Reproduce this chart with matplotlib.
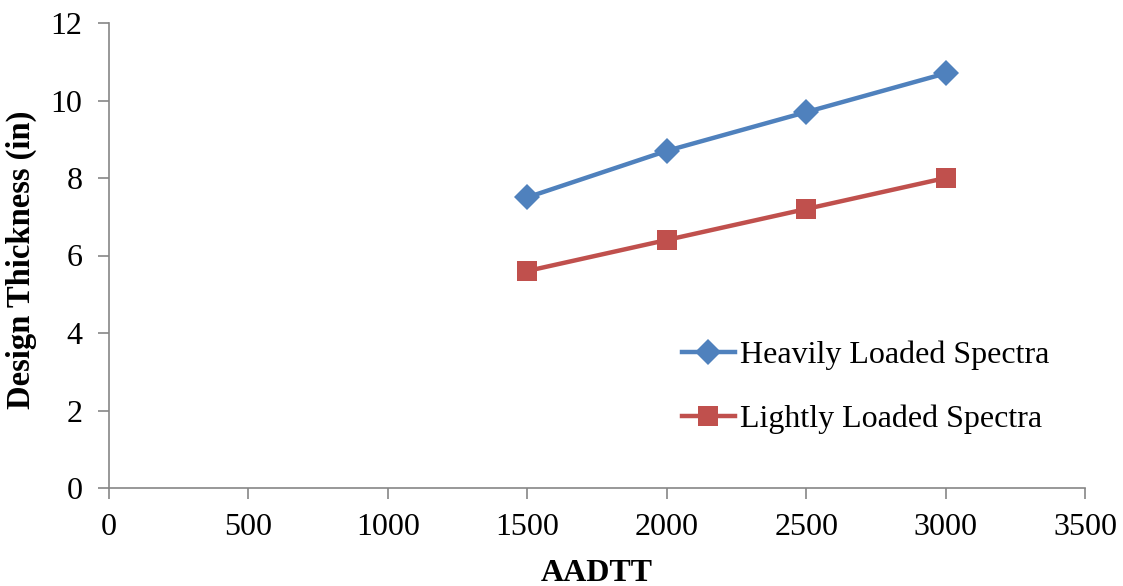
import matplotlib
matplotlib.use("Agg")
import matplotlib.pyplot as plt

aadtt = [1500, 2000, 2500, 3000]
heavy = [7.5, 8.7, 9.7, 10.7]
light = [5.6, 6.4, 7.2, 8.0]
series_labels = ["Heavily Loaded Spectra", "Lightly Loaded Spectra"]
xticks = [0, 500, 1000, 1500, 2000, 2500, 3000, 3500]
yticks = [0, 2, 4, 6, 8, 10, 12]

plt.rcParams['font.family'] = ['Liberation Serif', 'DejaVu Serif']

fig = plt.figure(figsize=(11.23, 5.86), dpi=100)
ax = fig.add_axes([109/1123, 1-488/586, (1085-109)/1123, (488-23)/586])

ax.plot(aadtt, heavy, color='#4F81BD', lw=3.2, marker='D', markersize=13,
        markeredgewidth=0, label=series_labels[0])
ax.plot(aadtt, light, color='#C0504D', lw=3.2, marker='s', markersize=15,
        markeredgewidth=0, label=series_labels[1])

ax.set_xlim(0, 3500)
ax.set_ylim(0, 12)
ax.set_xticks(xticks)
ax.set_yticks(yticks)
for s in ['top', 'right']:
    ax.spines[s].set_visible(False)
for s in ['left', 'bottom']:
    ax.spines[s].set_color('#868686')
    ax.spines[s].set_linewidth(1.2)
ax.tick_params(axis='both', direction='out', length=8, width=1.2, color='#868686',
               labelsize=23, labelcolor='black')
ax.tick_params(axis='y', pad=11)
ax.tick_params(axis='x', pad=10)

ax.set_xlabel('AADTT', fontsize=23, fontweight='bold', labelpad=12)
ax.set_ylabel('Design Thickness (in)', fontsize=23.5, fontweight='bold')
ax.yaxis.set_label_coords(-(109-37)/976, 0.49)

leg = ax.legend(loc='upper left', bbox_to_anchor=((669-109)/976, 1-(328-23)/465),
                frameon=False, fontsize=23, handlelength=1.66, handletextpad=0.15,
                labelspacing=1.08, borderaxespad=0)

fig.savefig('out.png', dpi=100)
